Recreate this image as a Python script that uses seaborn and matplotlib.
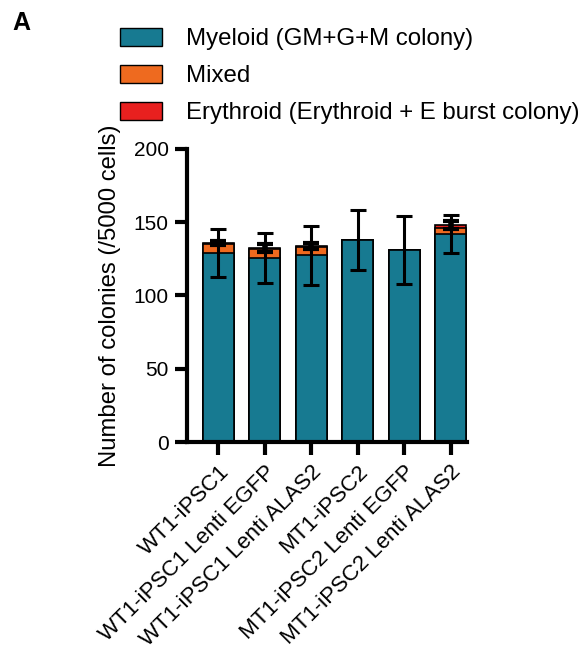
import numpy as np
import pandas as pd
import matplotlib
matplotlib.use('Agg')
import matplotlib.pyplot as plt
import seaborn as sns
from matplotlib.patches import Patch

groups = ['WT1-iPSC1', 'WT1-iPSC1 Lenti EGFP', 'WT1-iPSC1 Lenti ALAS2',
          'MT1-iPSC2', 'MT1-iPSC2 Lenti EGFP', 'MT1-iPSC2 Lenti ALAS2']
myeloid = [129.0, 125.5, 127.3, 137.7, 131.0, 141.8]
mixed = [5.8, 6.0, 5.7, 0.0, 0.0, 4.2]
erythroid = [0.8, 0.8, 0.8, 0.0, 0.0, 2.0]
myeloid_sd = [16.5, 17.0, 20.3, 20.7, 23.0, 13.0]
total_sd = [1.5, 2.5, 2.0, 0.0, 0.0, 2.7]

c_myeloid = '#177a91'
c_mixed = '#ee6a1f'
c_ery = '#e8201f'

sns.set_style('ticks')
plt.rcParams['font.family'] = ['Liberation Sans', 'DejaVu Sans']
plt.rcParams['text.color'] = 'black'
plt.rcParams['axes.labelcolor'] = 'black'
plt.rcParams['xtick.color'] = 'black'
plt.rcParams['ytick.color'] = 'black'
plt.rcParams['axes.edgecolor'] = 'black'

df = pd.DataFrame({'group': groups, 'myeloid': myeloid, 'mixed': mixed, 'erythroid': erythroid})
df['mid'] = df['myeloid'] + df['mixed']
df['total'] = df['mid'] + df['erythroid']

fig = plt.figure(figsize=(5.82, 6.55), dpi=100)
ax = fig.add_axes([0.321, 0.325, 0.481, 0.448])

# stacked look: draw cumulative totals back to front
for col, color in [('total', c_ery), ('mid', c_mixed), ('myeloid', c_myeloid)]:
    sns.barplot(data=df, x='group', y=col, order=groups, color=color, width=0.67,
                edgecolor='black', linewidth=1.2, errorbar=None, ax=ax, saturation=1)

pos = np.arange(len(groups))
ax.errorbar(pos, df['myeloid'], yerr=myeloid_sd, fmt='none', ecolor='black',
            elinewidth=2.2, capsize=6, capthick=2.2, zorder=5)
has_tot = np.array(total_sd) > 0
ax.errorbar(pos[has_tot], df['total'][has_tot], yerr=np.array(total_sd)[has_tot], fmt='none',
            ecolor='black', elinewidth=4, capsize=6, capthick=3, zorder=5)

ax.set_ylim(0, 200)
ax.set_xlim(-0.68, 5.35)
ax.set_yticks([0, 50, 100, 150, 200])
ax.set_xlabel('')
ax.set_ylabel('Number of colonies (/5000 cells)', fontsize=17.2, labelpad=9)
ax.set_xticks(pos)
ax.set_xticklabels(groups, rotation=45, ha='right', rotation_mode='anchor', fontsize=16)
ax.tick_params(axis='y', labelsize=15, width=3, length=9, pad=4)
ax.tick_params(axis='x', width=3, length=9, pad=5)
sns.despine(ax=ax)
for s in ['left', 'bottom']:
    ax.spines[s].set_linewidth(3)

handles = [Patch(facecolor=c_myeloid, edgecolor='black', linewidth=1),
           Patch(facecolor=c_mixed, edgecolor='black', linewidth=1),
           Patch(facecolor=c_ery, edgecolor='black', linewidth=1)]
labels = ['Myeloid (GM+G+M colony)', 'Mixed', 'Erythroid (Erythroid + E burst colony)']
fig.legend(handles, labels, loc='upper left', bbox_to_anchor=(0.19, 0.972), frameon=False,
           fontsize=17.3, handlelength=1.75, handleheight=0.8, handletextpad=1.0,
           labelspacing=0.6, borderaxespad=0)

fig.text(0.022, 0.983, 'A', fontsize=18, fontweight='bold', va='top', ha='left')

fig.savefig('out.png', dpi=100)
